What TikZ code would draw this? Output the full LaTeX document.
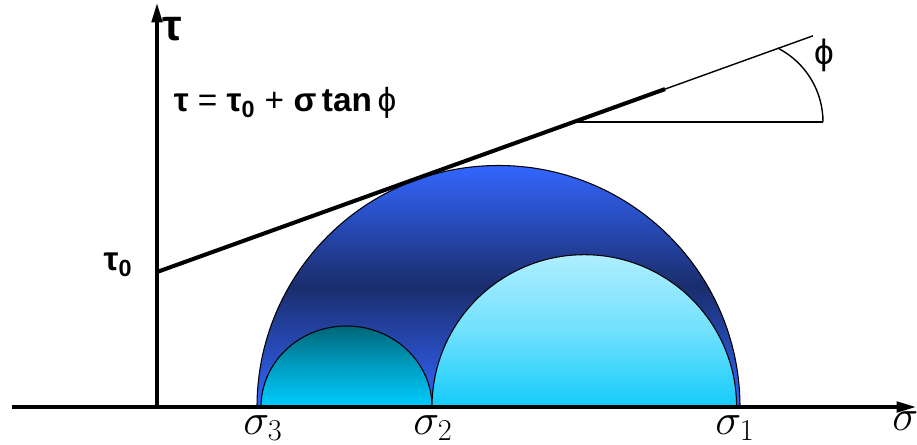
\documentclass[tikz,border=0pt]{standalone}
\usepackage{fontspec}
\setmainfont{Liberation Sans}
\usetikzlibrary{arrows.meta}
\definecolor{bigEdge}{HTML}{3366FF}
\definecolor{bigCore}{HTML}{1A2D6C}
\definecolor{midTop}{HTML}{AEEEFF}
\definecolor{midBot}{HTML}{14CCFA}
\definecolor{smallTop}{HTML}{006678}
\definecolor{smallBot}{HTML}{00CCFF}

\begin{document}
\begin{tikzpicture}[x=0.02cm,y=0.02cm,
  axis/.style={line width=1.8pt,-{Triangle[length=11pt,width=6pt]}},
  rim/.style={draw=black,line width=0.6pt},
  sig/.style={font=\fontsize{25}{27}\selectfont,inner sep=0pt}]
  \useasboundingbox (0,0) rectangle (917,444);
  % Mohr circles, largest first
  \path[rim,top color=bigEdge,bottom color=bigEdge,middle color=bigCore]
    (257,37) arc[start angle=180,end angle=0,radius=241.5] -- cycle;
  \path[rim,top color=smallTop,bottom color=smallBot,middle color=smallTop!45!smallBot]
    (261,37) arc[start angle=180,end angle=0,x radius=85.5,y radius=81] -- cycle;
  \path[rim,top color=midTop,bottom color=midBot,middle color=midTop!60!midBot]
    (432,37) arc[start angle=180,end angle=0,radius=152.3] -- cycle;
  % Axes
  \coordinate (O) at (157,37);
  \coordinate (xl) at (12,37);
  \coordinate (xr) at (916,37);
  \coordinate (yt) at (157,441);
  \draw[axis] (xl) -- (xr);
  \draw[axis] (O) -- (yt);
  % Failure envelope and its angle
  \coordinate (c0) at (157,172);
  \coordinate (cb) at (665,354.9);
  \coordinate (ce) at (813,408.2);
  \coordinate (h1) at (576,322);
  \coordinate (h2) at (823,322);
  \draw[line width=2.3pt] (c0) -- (cb);
  \draw[line width=0.8pt] (cb) -- (ce);
  \draw[line width=0.8pt] (h1) -- (h2);
  \draw[line width=0.8pt] (h2) arc[start angle=0,end angle=63,radius=83];
  % Labels
  \node[font=\bfseries\fontsize{25}{27}\selectfont] (tau) at (172,415) {τ};
  \node[font=\fontsize{19}{21}\selectfont] (law) at (285,341)
    {\textbf{τ} = \textbf{τ}\textsubscript{\textbf{0}} + \textbf{σ}\,\textbf{tan}\,ϕ};
  \node[font=\bfseries\fontsize{19}{21}\selectfont] (tau0) at (118,179) {τ\textsubscript{0}};
  \node[font=\fontsize{20}{22}\selectfont] (phi) at (824,389) {ϕ};
  \node[sig] (s3) at (263,16) {$\sigma_3$};
  \node[sig] (s2) at (433,16) {$\sigma_2$};
  \node[sig] (s1) at (735,16) {$\sigma_1$};
  \node[sig,anchor=west] (s) at (892,23) {$\sigma$};
\end{tikzpicture}
\end{document}
